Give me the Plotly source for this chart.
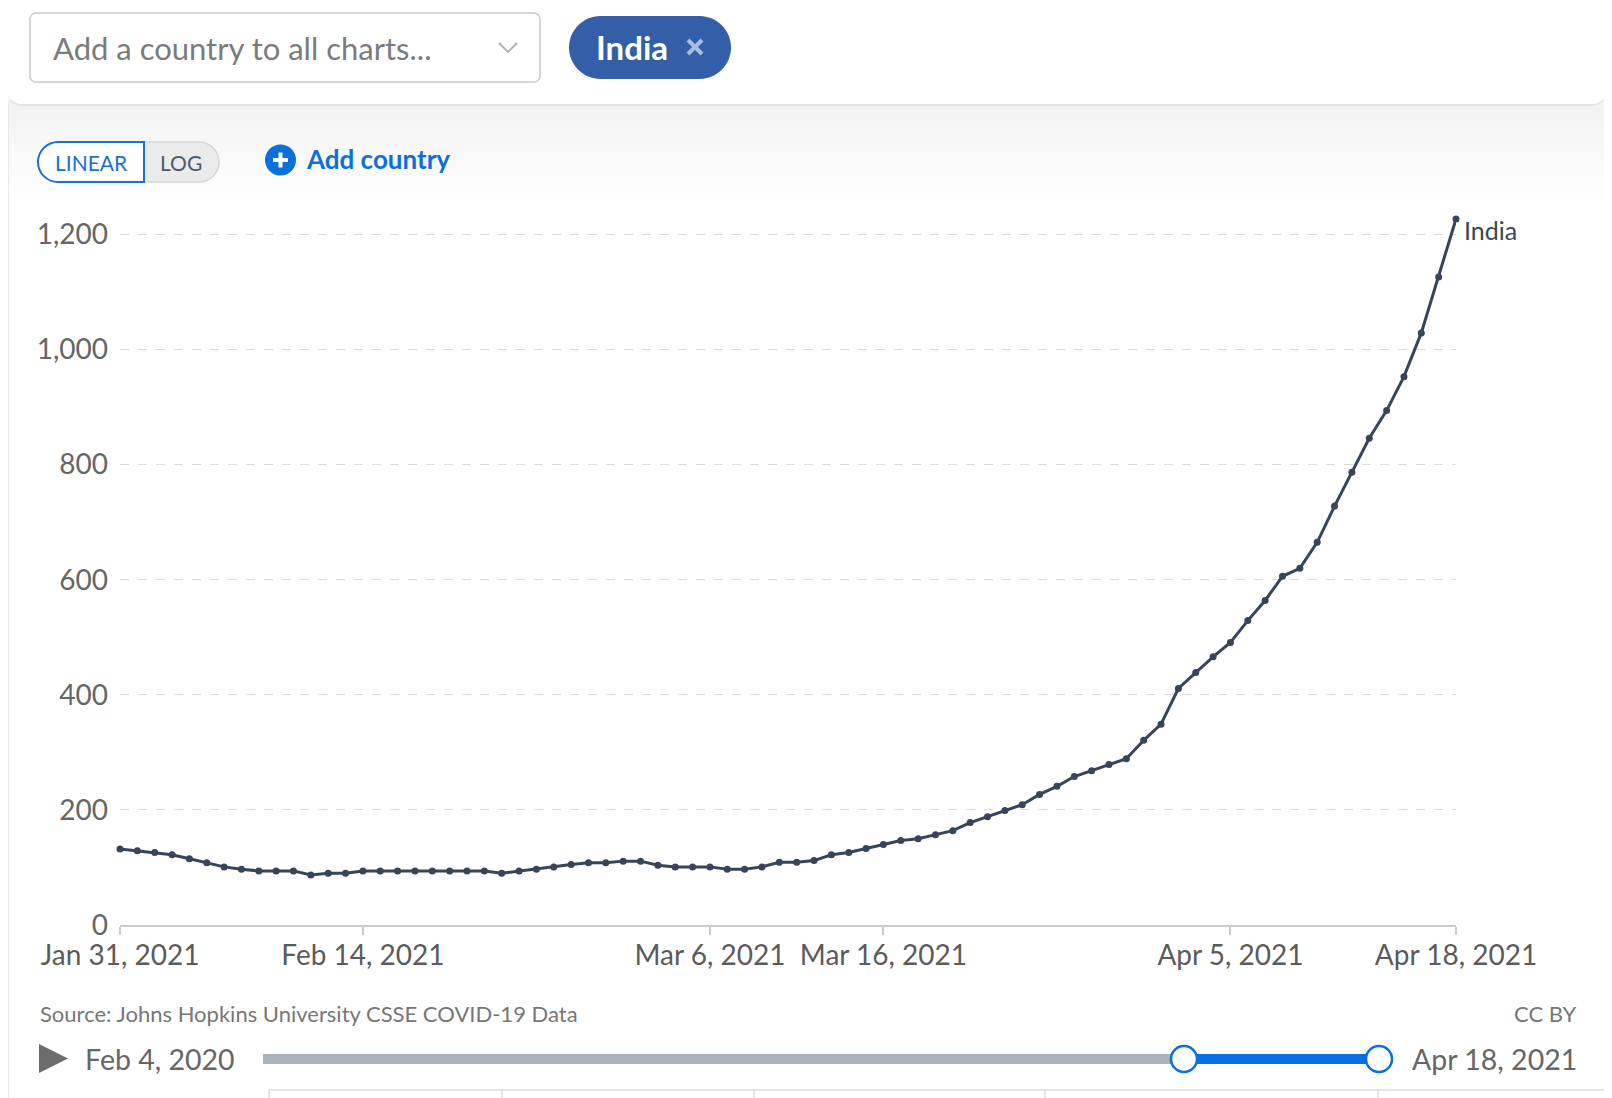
import pandas as pd
import plotly.graph_objects as go

# ---------------- data ----------------
start_date = "2021-01-31"
end_date = "2021-04-18"
india_values = [
    132, 129, 126, 122, 115, 108, 101, 97, 94, 94,
    94, 87, 90, 90, 94, 94, 94, 94, 94, 94,
    94, 94, 90, 94, 97, 101, 105, 108, 108, 111,
    111, 104, 101, 101, 101, 97, 97, 101, 109, 109,
    112, 122, 126, 133, 140, 147, 150, 157, 164, 178,
    188, 199, 209, 227, 241, 258, 268, 279, 289, 321,
    349, 411, 439, 466, 491, 529, 564, 606, 620, 665,
    728, 787, 846, 894, 953, 1029, 1126, 1227,
]
x_tick_dates = ["2021-01-31", "2021-02-14", "2021-03-06", "2021-03-16", "2021-04-05", "2021-04-18"]
x_tick_labels = ["Jan 31, 2021", "Feb 14, 2021", "Mar 6, 2021", "Mar 16, 2021", "Apr 5, 2021", "Apr 18, 2021"]
y_tick_vals = [0, 200, 400, 600, 800, 1000, 1200]
y_tick_labels = ["0", "200", "400", "600", "800", "1,000", "1,200"]
series_name = "India"
source_text = "Source: Johns Hopkins University CSSE COVID-19 Data"
license_text = "CC BY"
timeline_start = "Feb 4, 2020"
timeline_end = "Apr 18, 2021"

dates = pd.date_range(start_date, end_date, freq="D")

# ---------------- layout geometry ----------------
# page has an 8px body margin, so figure coordinates are shifted by 8px
OFF = 8
W, H = 1604, 1090
L, R, T, B = 112, 156, 192, 173
PW, PH = W - L - R, H - T - B
FONT = "Lato, 'Open Sans', sans-serif"
K = 0.5523


def px(x):
    return (x - OFF - L) / PW


def py(y):
    return (H - B - (y - OFF)) / PH


def rrect(x0, y0, x1, y1, r, corners="tltrblbr"):
    tl = r if "tl" in corners else 0
    tr = r if "tr" in corners else 0
    br = r if "br" in corners else 0
    bl = r if "bl" in corners else 0
    p = [f"M {px(x0 + tl)} {py(y0)}", f"L {px(x1 - tr)} {py(y0)}"]
    if tr:
        p.append(f"C {px(x1 - tr + K * tr)} {py(y0)} {px(x1)} {py(y0 + tr - K * tr)} {px(x1)} {py(y0 + tr)}")
    p.append(f"L {px(x1)} {py(y1 - br)}")
    if br:
        p.append(f"C {px(x1)} {py(y1 - br + K * br)} {px(x1 - br + K * br)} {py(y1)} {px(x1 - br)} {py(y1)}")
    p.append(f"L {px(x0 + bl)} {py(y1)}")
    if bl:
        p.append(f"C {px(x0 + bl - K * bl)} {py(y1)} {px(x0)} {py(y1 - bl + K * bl)} {px(x0)} {py(y1 - bl)}")
    p.append(f"L {px(x0)} {py(y0 + tl)}")
    if tl:
        p.append(f"C {px(x0)} {py(y0 + tl - K * tl)} {px(x0 + tl - K * tl)} {py(y0)} {px(x0 + tl)} {py(y0)}")
    p.append("Z")
    return " ".join(p)


shapes = []
annotations = []


def add_line(x0, y0, x1, y1, color, width, layer="above"):
    shapes.append(dict(type="line", xref="paper", yref="paper",
                       x0=px(x0), y0=py(y0), x1=px(x1), y1=py(y1),
                       line=dict(color=color, width=width), layer=layer))


def add_path(path, fill, line_color=None, line_width=0, layer="above", opacity=1):
    shapes.append(dict(type="path", xref="paper", yref="paper", path=path,
                       fillcolor=fill, opacity=opacity,
                       line=dict(color=line_color or "rgba(0,0,0,0)", width=line_width),
                       layer=layer))


def add_text(x, y, text, size, color, xanchor="left", bold=False):
    annotations.append(dict(xref="paper", yref="paper", x=px(x), y=py(y),
                            text=f"<b>{text}</b>" if bold else text, showarrow=False,
                            xanchor=xanchor, yanchor="middle",
                            font=dict(family=FONT, size=size, color=color)))


# soft shadow beneath the sticky card
for k in range(1, 13):
    add_path(rrect(8, 100, 1607, 104 + 8 * k, 0), "#000000", layer="below", opacity=0.0055)

# panel borders
add_line(8, 104, 8, 1110, "#e2e2e2", 1.5, layer="below")
add_line(1608, 104, 1608, 1110, "#e2e2e2", 1.5, layer="below")

# top card
add_path(rrect(6, -20, 1608, 106, 16, corners="blbr"), "rgba(0,0,0,0.06)")
add_path(rrect(7, -20, 1607, 104, 15, corners="blbr"), "#ffffff")

# dropdown
add_path(rrect(30, 13, 540, 82, 6), "#ffffff", "#c9c9c9", 1.5)
add_text(51, 48, "Add a country to all charts...", 31, "#7b7b7b")
shapes.append(dict(type="path", xref="paper", yref="paper",
                   path=f"M {px(499)} {py(43)} L {px(508)} {py(52)} L {px(517)} {py(43)}",
                   line=dict(color="#b5b5b5", width=2.2), fillcolor="rgba(0,0,0,0)"))

# selected country pill
add_path(rrect(569, 16, 731, 79, 31.5), "#345ea8")
add_text(594, 47, series_name, 33, "#ffffff", bold=True)
add_line(688, 40, 702, 54, "#a9bce2", 4)
add_line(688, 54, 702, 40, "#a9bce2", 4)

# LINEAR / LOG toggle
add_path(rrect(144, 142, 219, 182, 20, corners="trbr"), "#ebebeb", "#d8d8d8", 1.5)
add_path(rrect(38, 142, 144, 182, 20, corners="tlbl"), "#ffffff", "#1a6fd6", 2)
add_text(91, 162, "LINEAR", 21, "#1a6fd6", xanchor="center")
add_text(181, 162, "LOG", 21, "#4b5a70", xanchor="center")

# Add country button
shapes.append(dict(type="circle", xref="paper", yref="paper",
                   x0=px(265), y0=py(175.5), x1=px(296), y1=py(144.5),
                   fillcolor="#0b6fde", line=dict(color="#0b6fde", width=0)))
add_line(273, 160, 288, 160, "#ffffff", 4)
add_line(280.5, 152.5, 280.5, 167.5, "#ffffff", 4)
add_text(304, 159, "Add country", 26, "#0b6fde", bold=True)

# footer texts
add_text(38, 1013, source_text, 22, "#777777")
add_text(1578, 1013, license_text, 22, "#777777", xanchor="right")

# timeline
add_path(f"M {px(39)} {py(1044)} L {px(39)} {py(1073)} L {px(68)} {py(1058.5)} Z", "#6c6c6c")
add_text(83, 1059, timeline_start, 28.5, "#666666")
add_line(263, 1059, 1184, 1059, "#a9b2bd", 10)
add_line(1184, 1059, 1379, 1059, "#0a6fe0", 10)
for cx in (1184, 1379):
    shapes.append(dict(type="circle", xref="paper", yref="paper",
                       x0=px(cx - 13), y0=py(1072), x1=px(cx + 13), y1=py(1046),
                       fillcolor="#ffffff", line=dict(color="#0a6fe0", width=2.5)))
add_text(1410, 1059, timeline_end, 28.5, "#666666")

# table header stub at the bottom
add_line(269, 1090, 1620, 1090, "#dddddd", 1.5)
for vx in (269, 502, 754, 1045, 1378):
    add_line(vx, 1090, vx, 1110, "#dddddd", 1.5)

# ---------------- figure ----------------
fig = go.Figure()
fig.add_trace(go.Scatter(
    x=dates, y=india_values, mode="lines+markers", name=series_name,
    line=dict(color="#374459", width=3),
    marker=dict(color="#374459", size=7),
    cliponaxis=False, showlegend=False,
))

annotations.append(dict(x=dates[-1], y=india_values[-1], xref="x", yref="y",
                        text=series_name, showarrow=False, xanchor="left", yanchor="middle",
                        xshift=6, yshift=-11,
                        font=dict(family=FONT, size=25, color="#3a4658")))

fig.update_layout(
    width=W, height=H,
    margin=dict(l=L, r=R, t=T, b=B, pad=0),
    paper_bgcolor="#ffffff", plot_bgcolor="rgba(0,0,0,0)",
    font=dict(family=FONT),
    shapes=shapes, annotations=annotations,
    xaxis=dict(
        type="date", range=[dates[0], dates[-1]],
        tickmode="array", tickvals=x_tick_dates, ticktext=x_tick_labels,
        showgrid=False, zeroline=False,
        showline=True, linecolor="#cccccc", linewidth=1.5,
        ticks="outside", ticklen=8, tickcolor="#cccccc", tickwidth=1.5,
        tickfont=dict(family=FONT, size=28, color="#5b5b5b"),
        ticklabelstandoff=-3,
    ),
    yaxis=dict(
        range=[0, 1260],
        tickmode="array", tickvals=y_tick_vals, ticktext=y_tick_labels,
        showgrid=True, gridcolor="#d9d9d9", griddash="dash", gridwidth=1.2,
        zeroline=False, showline=False, ticks="",
        tickfont=dict(family=FONT, size=28, color="#666666"),
        ticklabelstandoff=11,
    ),
)

fig.write_html("out.html")
